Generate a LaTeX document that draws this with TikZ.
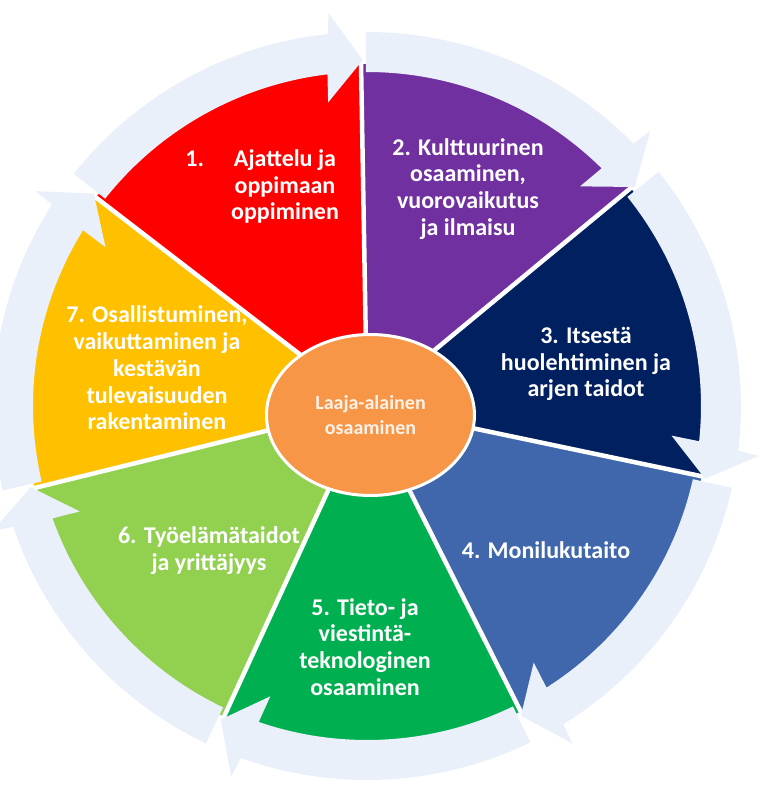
\documentclass[tikz,border=0pt]{standalone}
\usepackage{fontspec}
\setmainfont{Carlito}
\usetikzlibrary{shapes.geometric}
\definecolor{cred}{HTML}{FF0000}
\definecolor{cpurple}{HTML}{7030A0}
\definecolor{cnavy}{HTML}{002060}
\definecolor{cblue}{HTML}{4067AC}
\definecolor{cgreen}{HTML}{00B050}
\definecolor{clgreen}{HTML}{92D050}
\definecolor{cyellow}{HTML}{FFC000}
\definecolor{corange}{HTML}{F79646}
\definecolor{cring}{HTML}{EAF0FA}
\definecolor{ccream}{HTML}{FFF2E8}
\tikzset{
  segtext/.style={text=white, align=center, font=\bfseries\fontsize{24}{26.8}\selectfont, inner sep=0pt},
  hub/.style={ellipse, fill=corange, draw=white, line width=3pt, minimum width=208pt, minimum height=161pt, inner sep=0pt,
     text=ccream, align=center, font=\bfseries\fontsize{20}{25}\selectfont},
  ringseg/.style={fill=cring},
  sep/.style={white, line width=4.5pt}
}
\begin{document}
\begin{tikzpicture}[x=1pt,y=1pt]
\useasboundingbox (-367,-384) rectangle (411,406);
\coordinate (c) at (0,0);
% wedges
\foreach \i/\c in {0/cred,1/cpurple,2/cnavy,3/cblue,4/cgreen,5/clgreen,6/cyellow}{
  \pgfmathsetmacro{\a}{91-51.4286*\i}
  \pgfmathsetmacro{\b}{\a+51.4286}
  \fill[\c] (c) -- (\a:342) arc[start angle=\a, end angle=\b, radius=342] -- cycle;
}
% separators
\foreach \i in {0,...,6}{
  \pgfmathsetmacro{\a}{91-51.4286*\i}
  \draw[sep] (c) -- (\a:346);
}
% ring arrows
\foreach \i in {0,...,6}{
  \pgfmathsetmacro{\t}{91-51.4286*\i}
  \pgfmathsetmacro{\u}{\t-51.4286}
  \fill[ringseg] (\t-0.8:374) arc[start angle=\t-0.8, end angle=\u+5.0, radius=374]
     -- (\u+4.6:395) -- (\u-0.3:346) -- (\u+6.3:306) -- (\u+5.8:334)
     arc[start angle=\u+5.8, end angle=\t-0.8, radius=334] -- cycle;
}
% hub
\node[hub] (hub) at (3.5,-9) {Laaja-alainen\\osaaminen};
% texts
\node[segtext] (t1) at (-82,219.5) {\llap{1.\hspace{30pt}}Ajattelu ja\\oppimaan\\oppiminen};
\node[segtext] (t2) at (101,217) {2. Kulttuurinen\\osaaminen,\\vuorovaikutus\\ja ilmaisu};
\node[segtext] (t3) at (219,42) {3. Itsestä\\huolehtiminen ja\\arjen taidot};
\node[segtext] (t4) at (179,-144) {4. Monilukutaito};
\node[segtext] (t5) at (-2,-241) {5. Tieto- ja\\viestintä-\\teknologinen\\osaaminen};
\node[segtext] (t6) at (-158,-145) {6. Työelämätaidot\\ja yrittäjyys};
\node[segtext] (t7) at (-210,38) {7. Osallistuminen,\\vaikuttaminen ja\\kestävän\\tulevaisuuden\\rakentaminen};
\end{tikzpicture}
\end{document}
